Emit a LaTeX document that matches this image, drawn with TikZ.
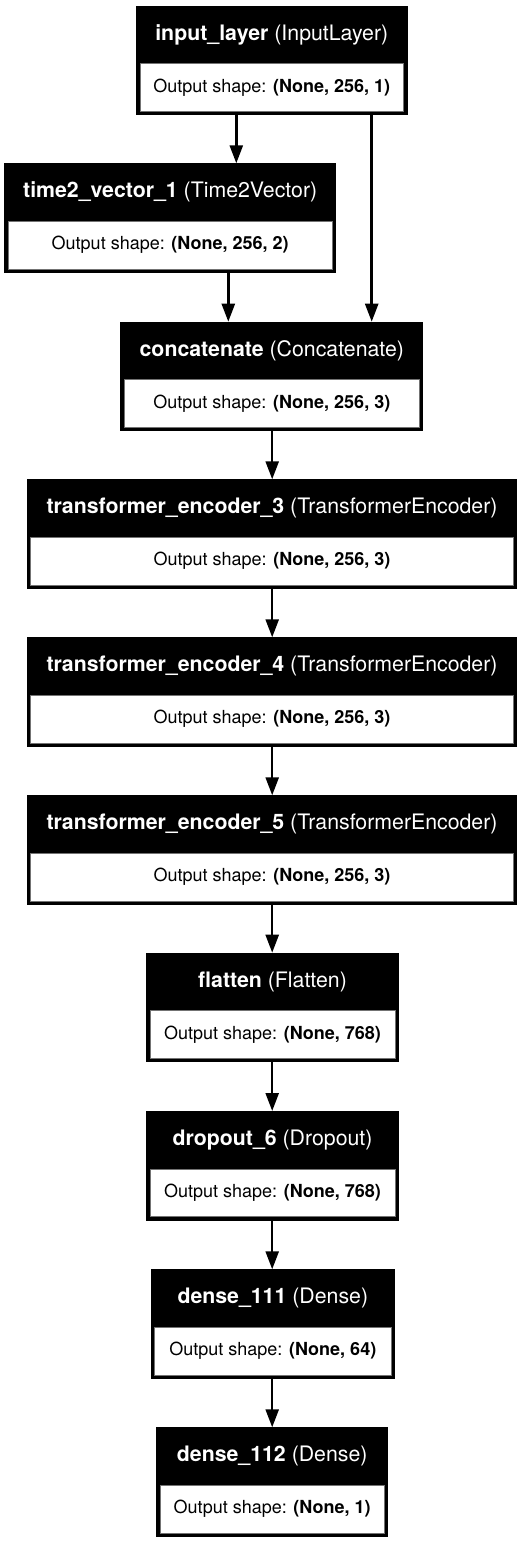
\documentclass[tikz,border=0pt]{standalone}
\usepackage{fontspec}
\setmainfont{TeX Gyre Heros}
\usetikzlibrary{arrows.meta,calc}
\tikzset{
  outerbox/.style={rectangle, fill=black, inner sep=0pt, outer sep=0pt, minimum height=109.5pt},
  innerbox/.style={rectangle, fill=white, draw=black!55, line width=0.6pt, inner sep=0pt, outer sep=0pt, minimum height=47.5pt, anchor=south, font=\fontsize{18}{21}\selectfont},
  headtxt/.style={inner sep=0pt, text=white, font=\fontsize{21.3}{24}\selectfont},
  arr/.style={line width=2.5pt, -{Triangle[length=18pt,width=13pt]}}
}
\newcommand{\mylayer}[7]{%
  \node[outerbox, minimum width=#4pt] (#1) at (#2,#3+54.75) {};
  \node[innerbox, minimum width=#4pt-8pt] (#1-out) at ($(#1.south)+(0,-4)$) {Output shape: \textbf{#7}};
  \node[headtxt] (#1-head) at ($(#1.north)+(0,29)$) {\textbf{#5} #6};
}
\begin{document}
\begin{tikzpicture}[x=1pt,y=-1pt]
\useasboundingbox (0,0) rectangle (522,1543);
\fill[white] (0,0) rectangle (522,1543);
\mylayer{inp}{271.75}{5.5}{271.5}{input\_layer}{(InputLayer)}{(None, 256, 1)}
\mylayer{tv}{170.2}{163.3}{331.7}{time2\_vector\_1}{(Time2Vector)}{(None, 256, 2)}
\mylayer{cat}{271.8}{321.7}{303}{concatenate}{(Concatenate)}{(None, 256, 3)}
\mylayer{te3}{272}{479.3}{490.6}{transformer\_encoder\_3}{(TransformerEncoder)}{(None, 256, 3)}
\mylayer{te4}{272}{637.3}{490.6}{transformer\_encoder\_4}{(TransformerEncoder)}{(None, 256, 3)}
\mylayer{te5}{272}{795.3}{490.6}{transformer\_encoder\_5}{(TransformerEncoder)}{(None, 256, 3)}
\mylayer{fl}{272.5}{952.7}{253}{flatten}{(Flatten)}{(None, 768)}
\mylayer{dr}{272.5}{1111}{253}{dropout\_6}{(Dropout)}{(None, 768)}
\mylayer{da}{272.8}{1269.3}{244.3}{dense\_111}{(Dense)}{(None, 64)}
\mylayer{db}{272.2}{1427.3}{232.3}{dense\_112}{(Dense)}{(None, 1)}
\coordinate (c1) at (236.3,0);
\coordinate (c2) at (371.7,0);
\coordinate (c3) at (228.3,0);
\coordinate (c4) at (272.2,0);
\draw[arr] (inp.south -| c1) -- (tv.north -| c1);
\draw[arr] (inp.south -| c2) -- (cat.north -| c2);
\draw[arr] (tv.south -| c3) -- (cat.north -| c3);
\draw[arr] (cat.south -| c4) -- (te3.north -| c4);
\draw[arr] (te3.south -| c4) -- (te4.north -| c4);
\draw[arr] (te4.south -| c4) -- (te5.north -| c4);
\draw[arr] (te5.south -| c4) -- (fl.north -| c4);
\draw[arr] (fl.south -| c4) -- (dr.north -| c4);
\draw[arr] (dr.south -| c4) -- (da.north -| c4);
\draw[arr] (da.south -| c4) -- (db.north -| c4);
\end{tikzpicture}
\end{document}
